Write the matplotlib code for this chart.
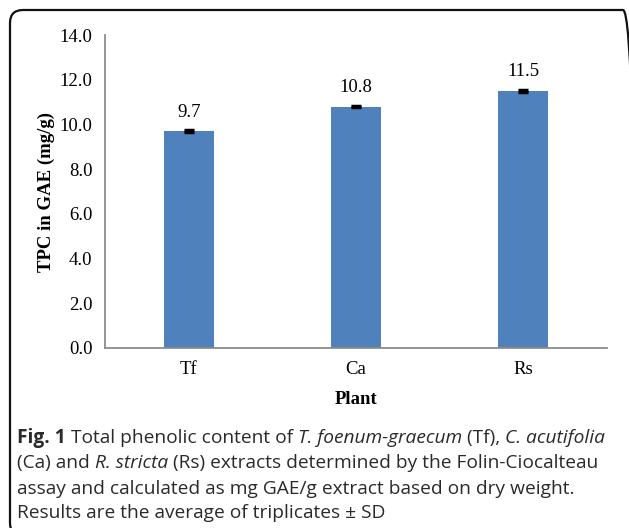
import matplotlib
matplotlib.use("Agg")
import matplotlib.pyplot as plt
from matplotlib.patches import FancyBboxPatch
from matplotlib.transforms import IdentityTransform

plants = ["Tf", "Ca", "Rs"]
tpc = [9.7, 10.8, 11.5]
sd = [0.03, 0.03, 0.03]
yticks = [0, 2, 4, 6, 8, 10, 12, 14]

caption_lines = [
    [("Fig. 1", "bold"), (" Total phenolic content of ", "normal"), ("T. foenum-graecum", "italic"),
     (" (Tf), ", "normal"), ("C. acutifolia", "italic")],
    [("(Ca) and ", "normal"), ("R. stricta", "italic"),
     (" (Rs) extracts determined by the Folin-Ciocalteau", "normal")],
    [("assay and calculated as mg GAE/g extract based on dry weight.", "normal")],
    [("Results are the average of triplicates \u00b1 SD", "normal")],
]

W, H = 629, 528
fig = plt.figure(figsize=(W / 100, H / 100), dpi=100)

# rounded frame in pixel units; right and bottom edges run off the picture
frame = FancyBboxPatch((10, -8), 626, H - 10 + 8,
                       boxstyle="round,pad=0,rounding_size=13",
                       transform=IdentityTransform(), fill=False, lw=1.6, ec="#111111")
fig.patches.append(frame)

ax = fig.add_axes([105 / W, 1 - 348 / H, 502 / W, 313 / H])
serif = "Liberation Serif"
fs = 13.5
ax.bar(range(len(plants)), tpc, width=0.3, color="#4F81BD",
       yerr=sd, capsize=3.5, error_kw=dict(ecolor="black", elinewidth=1, capthick=2.5))
for i, v in enumerate(tpc):
    ax.text(i, v + 0.85, f"{v:.1f}", ha="center", va="center", fontsize=fs, family=serif)

ax.set_xlim(-0.5, 2.5)
ax.set_ylim(0, 14)
ax.set_yticks(yticks)
ax.set_yticklabels([f"{t:.1f}" for t in yticks], family=serif, fontsize=fs)
ax.set_xticks(range(len(plants)))
ax.set_xticklabels(plants, family=serif, fontsize=fs)
ax.tick_params(length=0, pad=9)
for s in ["top", "right"]:
    ax.spines[s].set_visible(False)
for s in ["left", "bottom"]:
    ax.spines[s].set_color("#8c8c8c")
    ax.spines[s].set_linewidth(1.3)
ax.set_ylabel("TPC in GAE (mg/g)", family=serif, fontweight="bold", fontsize=fs, labelpad=3)
ax.set_xlabel("Plant", family=serif, fontweight="bold", fontsize=fs, labelpad=10)

# caption, drawn piece by piece
fig.canvas.draw()
renderer = fig.canvas.get_renderer()
y_px = [438, 463, 489, 513]
for line, yp in zip(caption_lines, y_px):
    x = 17
    for txt, style in line:
        kw = dict(fontsize=13.8, family="Open Sans", color="#2a2a2a", va="center", ha="left")
        if style == "bold":
            kw["fontweight"] = "bold"
        if style == "italic":
            kw["fontstyle"] = "italic"
        t = fig.text(x / W, 1 - yp / H, txt, **kw)
        bb = t.get_window_extent(renderer)
        x += bb.width

fig.savefig("out.png", dpi=100)
